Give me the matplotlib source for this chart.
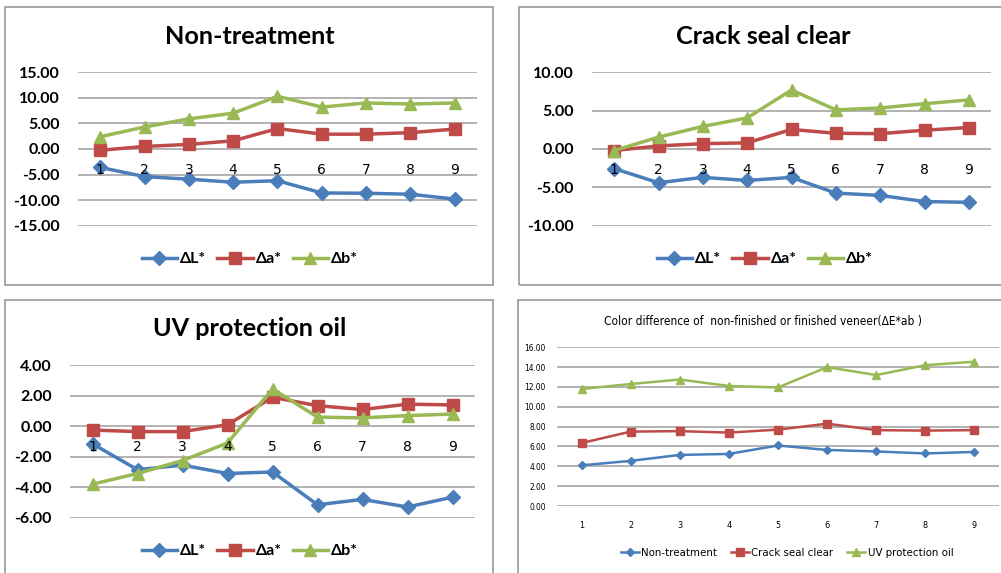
import matplotlib.pyplot as plt
from matplotlib.patches import Rectangle
from matplotlib import font_manager

# data
samples = [1, 2, 3, 4, 5, 6, 7, 8, 9]

nt_dL = [-3.6, -5.4, -5.9, -6.5, -6.2, -8.6, -8.65, -8.85, -9.8]
nt_da = [-0.25, 0.5, 0.9, 1.6, 4.0, 2.9, 2.9, 3.2, 3.9]
nt_db = [2.4, 4.3, 5.9, 7.0, 10.3, 8.2, 9.0, 8.8, 9.0]

cs_dL = [-2.55, -4.4, -3.7, -4.1, -3.7, -5.75, -6.05, -6.85, -6.95]
cs_da = [-0.2, 0.4, 0.7, 0.8, 2.55, 2.05, 2.0, 2.45, 2.8]
cs_db = [-0.2, 1.55, 2.95, 4.05, 7.7, 5.1, 5.35, 5.9, 6.4]

uv_dL = [-1.15, -2.85, -2.55, -3.1, -3.0, -5.15, -4.8, -5.3, -4.65]
uv_da = [-0.25, -0.35, -0.35, 0.1, 1.9, 1.35, 1.1, 1.45, 1.4]
uv_db = [-3.8, -3.1, -2.25, -1.1, 2.45, 0.6, 0.55, 0.7, 0.8]

de_nt = [4.1, 4.55, 5.15, 5.25, 6.1, 5.65, 5.5, 5.3, 5.45]
de_cs = [6.35, 7.5, 7.55, 7.4, 7.7, 8.3, 7.65, 7.6, 7.65]
de_uv = [11.8, 12.3, 12.75, 12.1, 11.95, 14.0, 13.2, 14.2, 14.55]

blue = "#4a7ebb"
red = "#be4b48"
green = "#98b954"
grid_c = "#a6a6a6"

W, H = 1001, 573
names = [f.name for f in font_manager.fontManager.ttflist]
main_font = ["Lato", "DejaVu Sans"] if "Lato" in names else ["DejaVu Sans"]

# look for a condensed face for the last panel, otherwise Liberation Sans smaller
cond = [f for f in font_manager.fontManager.ttflist
        if ("Condensed" in f.fname or "Narrow" in f.fname) and "Bold" not in f.fname
        and "Oblique" not in f.fname and "Italic" not in f.fname]
if cond:
    narrow_font = [cond[0].name, "DejaVu Sans"]
    narrow_stretch = cond[0].stretch
    n_scale = 1.0
else:
    narrow_font = ["Liberation Sans", "DejaVu Sans"]
    narrow_stretch = "normal"
    n_scale = 0.9

fig = plt.figure(figsize=(W / 100, H / 100), dpi=100)


def px_axes(x0, y0, x1, y1):
    # pixel box (top-left origin) -> figure axes
    return fig.add_axes([x0 / W, 1 - y1 / H, (x1 - x0) / W, (y1 - y0) / H])


def frame(x0, y0, x1, y1):
    fig.patches.append(Rectangle((x0 / W, 1 - y1 / H), (x1 - x0) / W, (y1 - y0) / H,
                                 transform=fig.transFigure, fill=False,
                                 edgecolor="#9a9a9a", linewidth=1.2))


def delta_panel(box, frame_box, title, dL, da, db, ylim, step, title_xy, leg_xy):
    frame(*frame_box)
    ax = px_axes(*box)
    ax.plot(samples, dL, color=blue, marker="D", markersize=7, linewidth=2.5, label="ΔL*", zorder=3)
    ax.plot(samples, da, color=red, marker="s", markersize=8, linewidth=2.5, label="Δa*", zorder=3)
    ax.plot(samples, db, color=green, marker="^", markersize=9, linewidth=2.5, label="Δb*", zorder=3)
    ax.set_xlim(0.5, 9.5)
    ax.set_ylim(*ylim)
    yt = [ylim[0] + i * step for i in range(int(round((ylim[1] - ylim[0]) / step)) + 1)]
    for v in yt:
        ax.axhline(v, color=grid_c, linewidth=1.2, zorder=1)
    ax.set_yticks(yt)
    ax.set_yticklabels(["%.2f" % v for v in yt], family=main_font, fontweight="bold", fontsize=11.5)
    ax.set_xticks(samples)
    ax.set_xticklabels([str(s) for s in samples], family=main_font, fontsize=11.5, color="#505050")
    for s in ax.spines.values():
        s.set_visible(False)
    ax.spines["bottom"].set_position(("data", 0))
    ax.xaxis.set_zorder(4)
    ax.tick_params(axis="x", length=0, pad=10)
    ax.tick_params(axis="y", length=0, pad=13)
    fig.text(title_xy[0] / W, 1 - title_xy[1] / H, title, ha="center", va="center",
             family=main_font, fontweight="bold", fontsize=18.2)
    ax.legend(loc="center", bbox_to_anchor=(leg_xy[0] / W, 1 - leg_xy[1] / H),
              bbox_transform=fig.transFigure, ncol=3, frameon=False,
              prop={"family": main_font, "weight": "bold", "size": 11.5},
              handlelength=2.2, columnspacing=0.7, handletextpad=0.2)
    return ax


delta_panel((78, 72.3, 477, 225.7), (5, 7, 493, 285), "Non-treatment",
            nt_dL, nt_da, nt_db, (-15, 15), 5, (250, 37), (250, 259))
delta_panel((592, 72.3, 991, 225.7), (519, 7, 1010, 285), "Crack seal clear",
            cs_dL, cs_da, cs_db, (-10, 10), 5, (763, 37), (765, 259))
delta_panel((70, 365.3, 475, 517.7), (5, 300, 493, 590), "UV protection oil",
            uv_dL, uv_da, uv_db, (-6, 4), 2, (250, 329), (250, 551))

# colour difference panel
nprop = {"family": narrow_font, "stretch": narrow_stretch}
frame(518, 300, 1010, 590)
ax = px_axes(557, 347.3, 999, 506)
ax.plot(samples, de_nt, color=blue, marker="D", markersize=4.5, linewidth=1.8, label="Non-treatment")
ax.plot(samples, de_cs, color=red, marker="s", markersize=5.5, linewidth=1.8, label="Crack seal clear")
ax.plot(samples, de_uv, color=green, marker="^", markersize=6, linewidth=1.8, label="UV protection oil")
ax.set_xlim(0.5, 9.5)
ax.set_ylim(0, 16)
ax.set_yticks(range(0, 17, 2))
ax.set_yticklabels(["%.2f" % v for v in range(0, 17, 2)], fontsize=6 * n_scale, **nprop)
ax.set_xticks(samples)
ax.set_xticklabels([str(s) for s in samples], fontsize=6.5 * n_scale, **nprop)
ax.grid(axis="y", color=grid_c, linewidth=1.2)
ax.set_axisbelow(True)
for s in ax.spines.values():
    s.set_visible(False)
ax.tick_params(axis="both", length=0)
ax.tick_params(axis="y", pad=8)
ax.tick_params(axis="x", pad=11)
fig.text(763 / W, 1 - 322 / H, "Color difference of  non-finished or finished veneer(ΔE*ab )",
         ha="center", va="center", fontsize=8.6 * n_scale, **nprop)
ax.legend(loc="center", bbox_to_anchor=(787 / W, 1 - 553 / H), bbox_transform=fig.transFigure,
          ncol=3, frameon=False,
          prop={"family": narrow_font, "stretch": narrow_stretch, "size": 8.2 * n_scale},
          handlelength=1.6, columnspacing=1.2, handletextpad=0.2)

fig.savefig("out.png", dpi=100)
